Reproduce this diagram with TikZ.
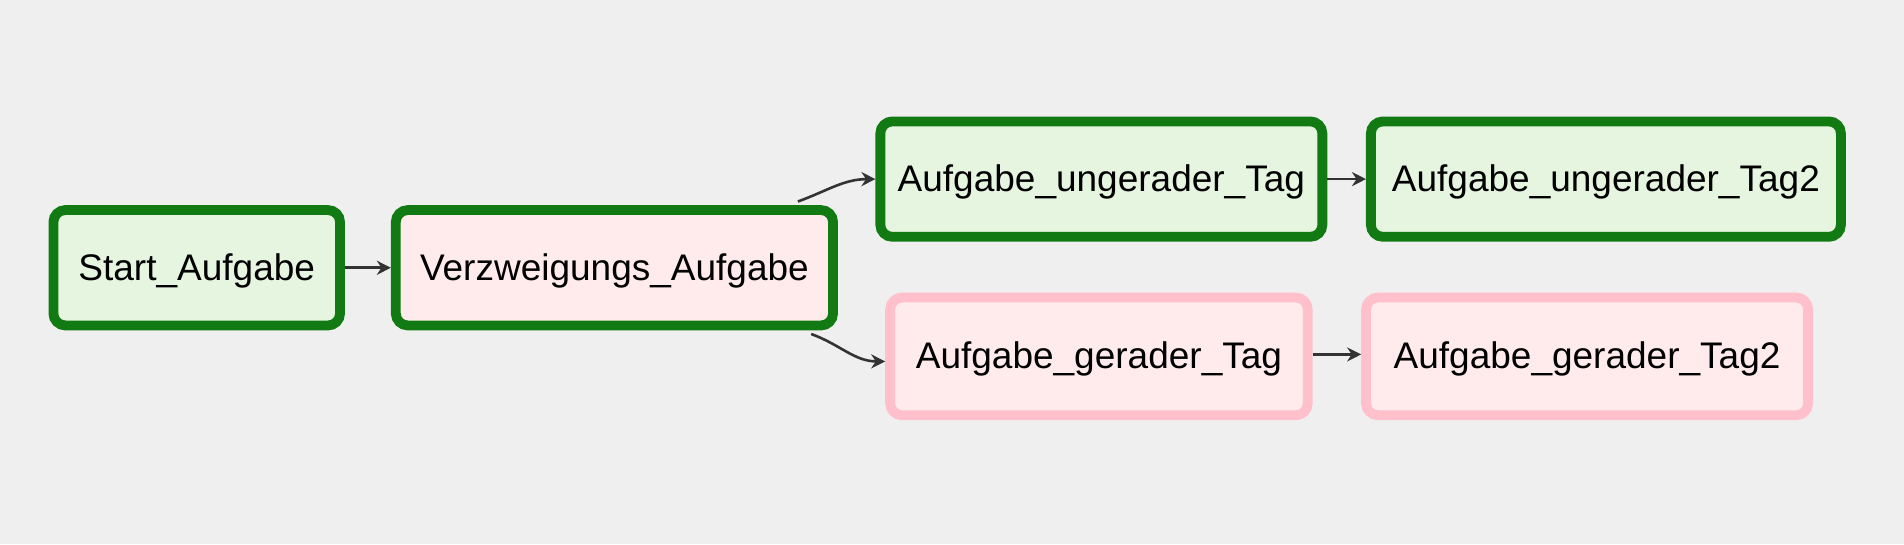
\documentclass[tikz,border=0pt]{standalone}
\usepackage{fontspec}
\setmainfont{Liberation Sans}
\usetikzlibrary{arrows.meta}
\definecolor{bgcol}{HTML}{EFEFEF}
\definecolor{okline}{HTML}{127A12}
\definecolor{okfill}{HTML}{E5F5E0}
\definecolor{skipline}{HTML}{FFC0CB}
\definecolor{skipfill}{HTML}{FFEBEB}
\definecolor{edgecol}{HTML}{333333}
\tikzset{
  task/.style={rectangle, rounded corners=6pt, line width=4.9pt, minimum height=57.7pt, font=\fontsize{18.5}{21}\selectfont, inner sep=0pt, text depth=1pt},
  oktask/.style={task, draw=okline, fill=okfill},
  skiptask/.style={task, draw=skipline, fill=skipfill},
  flow/.style={-{Stealth[length=7pt,width=7pt]}, line width=1.3pt, draw=edgecol}
}
\begin{document}
\begin{tikzpicture}[x=0.6071pt,y=-0.6071pt]
%background
\fill[bgcol] (0,0) rectangle (1568,448);
\useasboundingbox (0,0) rectangle (1568,448);

% Tasks
\node[oktask, minimum width=143.3pt] (start) at (162,220.5) {Start\_Aufgabe};
\node[oktask, minimum width=218.6pt, fill=skipfill] (branch) at (506,220.5) {Verzweigungs\_Aufgabe};
\node[oktask, minimum width=221pt] (odd) at (907,147.5) {Aufgabe\_ungerader\_Tag};
\node[oktask, minimum width=235pt] (odd2) at (1322.5,147.5) {Aufgabe\_ungerader\_Tag2};
\node[skiptask, minimum width=208.8pt, minimum height=58.9pt] (even) at (905,293.5) {Aufgabe\_gerader\_Tag};
\node[skiptask, minimum width=221pt, minimum height=58.9pt] (even2) at (1307,293.5) {Aufgabe\_gerader\_Tag2};

% Connectors
\draw[flow] (start.east) -- (branch.west);
\draw[flow] (branch.north east) ++(-33,-3) to[out=20,in=180] (odd.west);
\draw[flow] (branch.south east) ++(-22,3) to[out=-20,in=180] ([yshift=-2.5pt]even.west);
\draw[flow] (odd.east) -- (odd2.west);
\draw[flow] ([yshift=1pt]even.east) -- ([yshift=1pt]even2.west);
\end{tikzpicture}
\end{document}
